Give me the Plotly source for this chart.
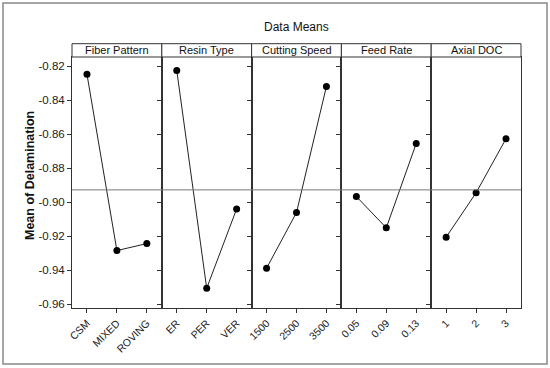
import plotly.graph_objects as go
from plotly.subplots import make_subplots

factors = ["Fiber Pattern", "Resin Type", "Cutting Speed", "Feed Rate", "Axial DOC"]
levels = [
    ["CSM", "MIXED", "ROVING"],
    ["ER", "PER", "VER"],
    ["1500", "2500", "3500"],
    ["0.05", "0.09", "0.13"],
    ["1", "2", "3"],
]
means = [
    [-0.8247, -0.9284, -0.9243],
    [-0.8225, -0.9506, -0.9039],
    [-0.9388, -0.9060, -0.8318],
    [-0.8966, -0.9150, -0.8654],
    [-0.9205, -0.8944, -0.8626],
]
grand_mean = -0.8927
y_ticks = [-0.82, -0.84, -0.86, -0.88, -0.90, -0.92, -0.94, -0.96]

FONT = "Liberation Sans"
fig = make_subplots(rows=1, cols=5, shared_yaxes=True, horizontal_spacing=0)

for i in range(5):
    fig.add_trace(go.Scatter(
        x=levels[i], y=means[i], mode="lines+markers",
        line=dict(color="#222222", width=1),
        marker=dict(color="black", size=7),
        showlegend=False, hoverinfo="x+y"), row=1, col=i + 1)
    fig.update_xaxes(type="category", range=[-0.5, 2.5], showline=True, mirror=True,
                     linecolor="#333333", linewidth=1, showgrid=False, zeroline=False,
                     ticks="outside", ticklen=4, tickcolor="#333333", tickangle=-45,
                     tickfont=dict(family=FONT, size=10.5, color="#222"),
                     fixedrange=True, row=1, col=i + 1)

fig.update_yaxes(range=[-0.9622, -0.8145], showline=True, mirror=True, linecolor="#333333",
                 linewidth=1, showgrid=False, zeroline=False, tickvals=y_ticks,
                 ticktext=[f"{v:.2f}" for v in y_ticks], ticks="outside", ticklen=4,
                 tickcolor="#333333", tickfont=dict(family=FONT, size=11.5, color="#222"))

shapes = []
annotations = []
hdr_top = 1 + 13.3 / 251
for i in range(5):
    xa = fig.layout[f"xaxis{'' if i == 0 else i + 1}"]
    d0, d1 = xa.domain
    shapes.append(dict(type="rect", xref="paper", yref="paper", x0=d0, x1=d1, y0=1, y1=hdr_top,
                       line=dict(color="#333333", width=1), fillcolor="white"))
    annotations.append(dict(text=factors[i], xref="paper", yref="paper", x=(d0 + d1) / 2,
                            y=(1 + hdr_top) / 2, showarrow=False, xanchor="center", yanchor="middle",
                            font=dict(family=FONT, size=11, color="#111")))

shapes.append(dict(type="line", xref="paper", yref="y", x0=0, x1=1, y0=grand_mean, y1=grand_mean,
                   line=dict(color="#777777", width=1)))
# outer frame
shapes.append(dict(type="rect", xref="paper", yref="paper",
                   x0=(3 - 72) / 449, x1=(547 - 72) / 449, y0=(308 - 364) / 251, y1=(308 - 3) / 251,
                   line=dict(color="#888888", width=1.5)))

annotations.append(dict(text="Data Means", xref="paper", yref="paper", x=0.5, y=(308 - 27) / 251,
                        showarrow=False, xanchor="center", yanchor="middle",
                        font=dict(family=FONT, size=12, color="#111")))
annotations.append(dict(text="<b>Mean of Delamination</b>", xref="paper", yref="paper",
                        x=(30 - 72) / 449, y=(308 - 176) / 251, textangle=-90, showarrow=False,
                        xanchor="center", yanchor="middle",
                        font=dict(family=FONT, size=12.5, color="#111")))

fig.update_layout(width=550, height=368, margin=dict(l=72, r=29, t=57, b=60),
                  plot_bgcolor="white", paper_bgcolor="white",
                  shapes=shapes, annotations=annotations)

fig.write_html("out.html", config={"displayModeBar": False},
               post_script="document.body.style.margin='0';document.body.style.overflow='hidden';")
